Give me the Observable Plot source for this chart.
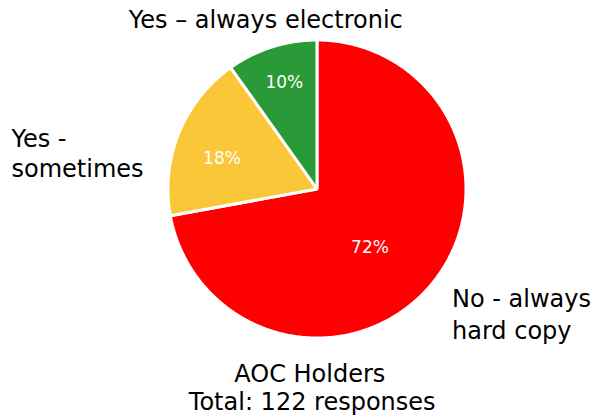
<!DOCTYPE html>
<html><head><meta charset="utf-8">
<script src="https://cdn.jsdelivr.net/npm/d3@7"></script>
<script src="https://cdn.jsdelivr.net/npm/@observablehq/plot@0.6"></script>
<style>html,body{margin:0;padding:0;background:#fff;} svg{display:block;}</style>
</head><body><div id="chart"></div>
<script>
// ---- data ----
const categories = ["No - always hard copy", "Yes - sometimes", "Yes – always electronic"];
const responses = [88, 22, 12];
const sliceColors = ["#FF0000", "#F9C737", "#2A9937"];
const categoryLines = [["No - always", "hard copy"], ["Yes -", "sometimes"], ["Yes – always electronic"]];
const captionTitle = "AOC Holders";

// ---- layout ----
const W = 593, H = 417;
const cx = 316.5, cy = 188.5, R = 149;
const pctRadius = [0.53, 0.67, 0.745];      // fraction of R for % labels
const pctTurn = [8, -4.3, 0.6];               // degrees nudge from slice mid-angle
const catLayout = [
  {anchor: "start", x: 451.5, y: [299, 330.6]},
  {anchor: "start", x: 11, y: [139, 169.3]},
  {anchor: "middle", x: 265.3, y: [20]}
];
const captionLayout = {x: [309.3, 311.7], y: [374, 402.3]};

const total = d3.sum(responses);
const arcs = d3.pie().sort(null).value(d => d)(responses);

// polygon points per slice
const pts = [];
arcs.forEach((a, i) => {
  pts.push({slice: i, x: cx, y: cy, color: sliceColors[i]});
  const n = Math.max(2, Math.ceil((a.endAngle - a.startAngle) / (Math.PI / 360)));
  for (let k = 0; k <= n; k++) {
    const t = a.startAngle + (a.endAngle - a.startAngle) * k / n;
    pts.push({slice: i, x: cx + R * Math.sin(t), y: cy - R * Math.cos(t), color: sliceColors[i]});
  }
});

const pctLabels = arcs.map((a, i) => {
  const mid = (a.startAngle + a.endAngle) / 2 + pctTurn[i] * Math.PI / 180;
  const rr = R * pctRadius[i];
  return {x: cx + rr * Math.sin(mid), y: cy - rr * Math.cos(mid),
          text: Math.round(100 * responses[i] / total) + "%"};
});

const catRows = [];
categoryLines.forEach((lines, i) => lines.forEach((t, j) => catRows.push({
  text: t, x: catLayout[i].x, y: catLayout[i].y[j], anchor: catLayout[i].anchor, cat: categories[i]
})));
const captionRows = [captionTitle, `Total: ${total} responses`].map((t, j) => ({
  text: t, x: captionLayout.x[j], y: captionLayout.y[j]
}));

const font = "'DejaVu Sans', sans-serif";
const fs = 24;
const chart = Plot.plot({
  width: W, height: H,
  margin: 0,
  x: {domain: [0, W], range: [0, W], axis: null},
  y: {domain: [0, H], range: [0, H], axis: null},
  color: {type: "identity"},
  style: {fontFamily: font, background: "#fff"},
  marks: [
    Plot.line(pts, {x: "x", y: "y", z: "slice", fill: "color", stroke: "white",
      strokeWidth: 3, strokeLinejoin: "miter", curve: "linear-closed"}),
    Plot.text(pctLabels, {x: "x", y: "y", text: "text", fill: "white", fontSize: 17, fontFamily: font}),
    Plot.text(catRows.filter(d => d.anchor === "start"), {x: "x", y: "y", text: "text",
      textAnchor: "start", fontSize: fs, fill: "black", fontFamily: font}),
    Plot.text(catRows.filter(d => d.anchor === "middle"), {x: "x", y: "y", text: "text",
      textAnchor: "middle", fontSize: fs, fill: "black", fontFamily: font}),
    Plot.text(captionRows, {x: "x", y: "y", text: "text", textAnchor: "middle",
      fontSize: fs, fill: "black", fontFamily: font})
  ]
});
document.getElementById("chart").appendChild(chart);
</script>
</body></html>
